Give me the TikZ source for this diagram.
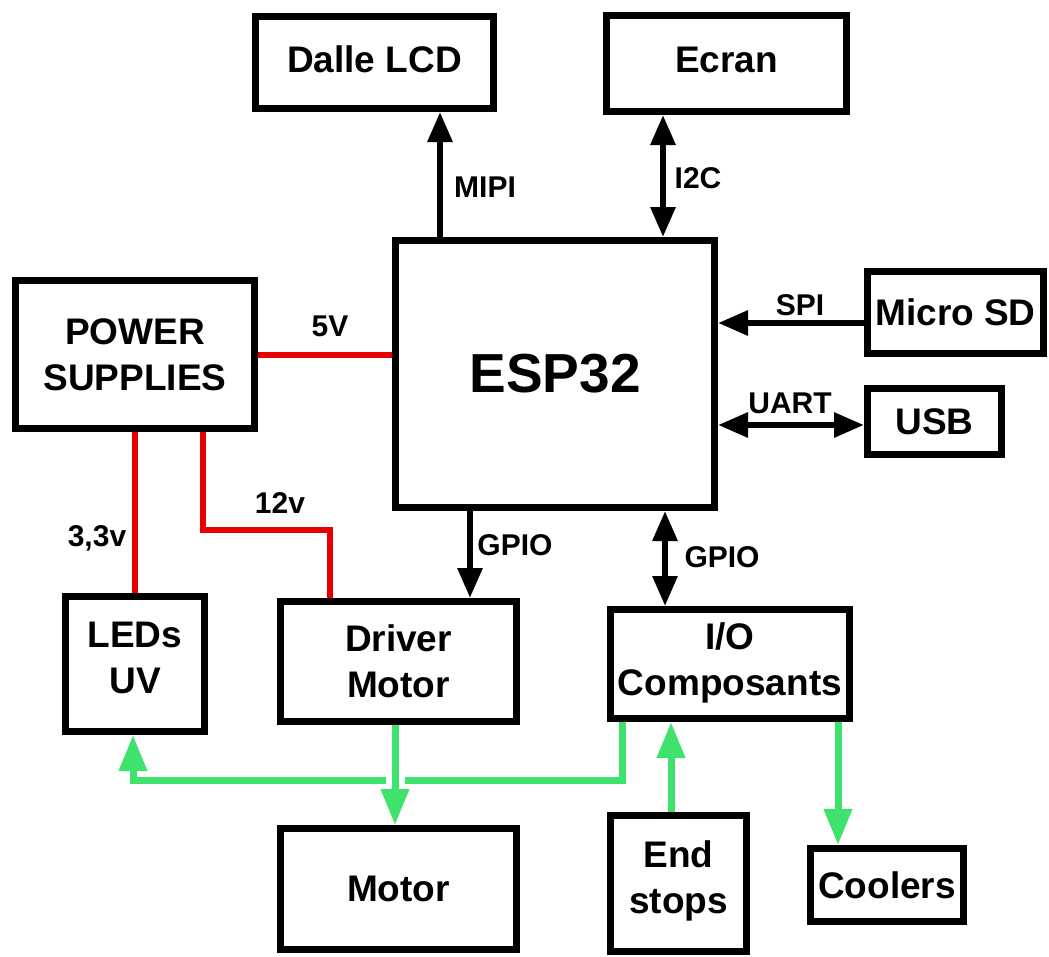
\documentclass[tikz,border=0pt]{standalone}
\usepackage{fontspec}
\setmainfont{Liberation Sans}
\usepackage{tikz}
\usetikzlibrary{
	arrows.meta,
	calc
}

\definecolor{pwrred}{RGB}{232,0,0}
\definecolor{iogreen}{RGB}{62,226,108}

\begin{document}
\begin{tikzpicture}[x=1pt, y=-1pt,
  blockbox/.style={draw, line width=7pt, align=center, inner sep=0pt,
    font=\fontsize{37}{46}\selectfont\bfseries},
  buslabel/.style={font=\fontsize{30}{34}\selectfont\bfseries},
  sigline/.style={line width=6pt, -{Triangle[length=30pt,width=24pt]}},
  sigboth/.style={line width=6pt, {Triangle[length=30pt,width=24pt]}-{Triangle[length=30pt,width=24pt]}},
  pwrline/.style={line width=6pt, pwrred},
  ioline/.style={line width=7pt, iogreen, -{Triangle[length=36pt,width=27pt]}}
]
\useasboundingbox (0,0) rectangle (1049,956);

% Blocks
\node[blockbox, minimum width=238, minimum height=92] (lcd) at (374.5,62.5) {\raisebox{7pt}{Dalle LCD}};
\node[blockbox, minimum width=240, minimum height=96] (ecran) at (726.5,63.5) {\raisebox{7pt}{Ecran}};
\node[blockbox, minimum width=319, minimum height=267,
      font=\fontsize{55}{60}\selectfont\bfseries] (esp) at (555,374) {\raisebox{-3pt}{ESP32}};
\node[blockbox, minimum width=176, minimum height=82] (sd) at (955.5,312.5) {Micro SD};
\node[blockbox, minimum width=134, minimum height=66] (usb) at (934.5,421.5) {\raisebox{-3pt}{USB}};
\node[blockbox, minimum width=239, minimum height=148] (power) at (135,354.5) {POWER\\SUPPLIES};
\node[blockbox, minimum width=139, minimum height=135] (leds) at (135,664) {LEDs\\UV\\[-33pt]\mbox{}};
\node[blockbox, minimum width=236, minimum height=120] (driver) at (398.5,661.5) {Driver\\Motor};
\node[blockbox, minimum width=236, minimum height=121] (motor) at (398.5,889) {Motor};
\node[blockbox, minimum width=239, minimum height=109] (io) at (730,664) {I/O\\Composants\\[-36pt]\mbox{}};
\node[blockbox, minimum width=136, minimum height=136] (ends) at (678.5,883) {End\\stops\\[-35pt]\mbox{}};
\node[blockbox, minimum width=153, minimum height=73] (coolers) at (887,885) {Coolers};

% Bus connections to the ESP32
\draw[sigline] ([xshift=-115pt]esp.north) -- ([xshift=-115pt]esp.north |- lcd.south);
\draw[sigboth] ([xshift=108pt]esp.north) -- ([xshift=108pt]esp.north |- ecran.south);
\draw[sigline] ([yshift=-10.5pt]sd.west) -- ([yshift=-10.5pt]sd.west -| esp.east);
\draw[sigboth] ([yshift=-3.5pt]usb.west -| esp.east) -- ([yshift=-3.5pt]usb.west);
\draw[sigline] ([xshift=-85pt]esp.south) -- ([xshift=-85pt]esp.south |- driver.north);
\draw[sigboth] ([xshift=110pt]esp.south) -- ([xshift=110pt]esp.south |- io.north);

\node[buslabel] (lblmipi) at (485,187) {MIPI};
\node[buslabel] (lbli2c) at (698,178) {I2C};
\node[buslabel] (lblspi) at (800,305) {SPI};
\node[buslabel] (lbluart) at (790,403) {UART};
\node[buslabel] (lblgpioa) at (515,545) {GPIO};
\node[buslabel] (lblgpiob) at (722,557) {GPIO};

% Power rails
\coordinate (rail12) at (0,530);
\draw[pwrline] (power.east) -- (power.east -| esp.west);
\draw[pwrline] (power.south) -- (leds.north);
\draw[pwrline] ([xshift=68pt]power.south) -- ([xshift=68pt]power.south |- rail12)
  -- ([xshift=-68.5pt]driver.north |- rail12) -- ([xshift=-68.5pt]driver.north);

\node[buslabel] (lbl5v) at (330,326) {5V};
\node[buslabel] (lbl12v) at (280,503) {12v};
\node[buslabel] (lbl33v) at (97,538) {3,3v};

% Green I/O links
\coordinate (ledbus) at (0,780);
\draw[ioline] ([xshift=-108pt]io.south) -- ([xshift=-108pt]io.south |- ledbus)
  -- ([xshift=-2pt]leds.south |- ledbus) -- ([xshift=-2pt]leds.south);
\draw[ioline, preaction={draw=white, line width=19pt, -}] ([xshift=-3.5pt]driver.south) -- ([xshift=-3.5pt]motor.north);
\draw[ioline] ([xshift=-7.5pt]ends.north) -- ([xshift=-7.5pt]ends.north |- io.south);
\draw[ioline] ([xshift=-49pt]coolers.north |- io.south) -- ([xshift=-49pt]coolers.north);

\end{tikzpicture}
\end{document}
